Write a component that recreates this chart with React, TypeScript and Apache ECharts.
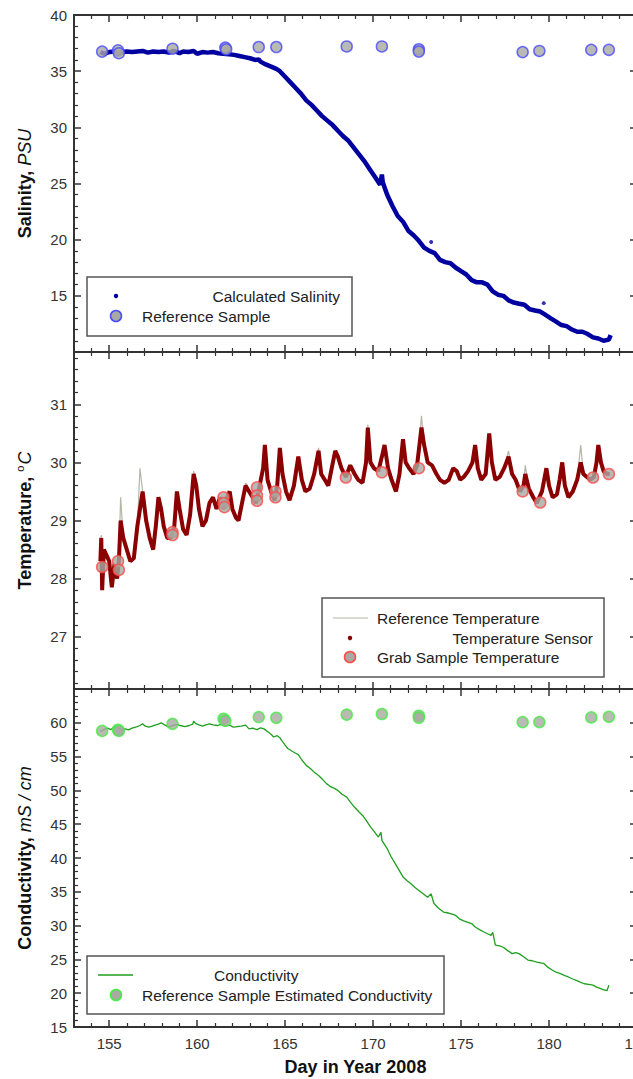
import React, { useEffect, useRef } from "react";
import * as echarts from "echarts";

const FONT = "'Liberation Sans', Arial, Helvetica, sans-serif";

// ---------- DATA ----------
const dayRange = [153, 185];
const salinityRange = [10, 40];
const temperatureRange = [26.1, 31.9];
const conductivityRange = [15, 65];

const calculatedSalinity: [number, number][] = [
  [154.5, 36.7], [154.7, 36.55], [155.0, 36.7], [155.3, 36.75], [155.5, 36.5], [155.7, 36.7],
  [156.0, 36.75], [156.3, 36.7], [156.6, 36.75], [156.9, 36.8], [157.2, 36.65], [157.5, 36.75],
  [157.8, 36.7], [158.1, 36.75], [158.4, 36.65], [158.7, 36.8], [159.0, 36.6], [159.2, 36.75],
  [159.5, 36.7], [159.8, 36.8], [160.0, 36.55], [160.3, 36.7], [160.6, 36.65], [160.9, 36.7],
  [161.2, 36.6], [161.5, 36.55], [161.8, 36.5], [162.1, 36.45], [162.4, 36.35], [162.7, 36.25],
  [163.0, 36.15], [163.3, 36.0], [163.5, 36.05], [163.6, 35.85], [163.9, 35.6], [164.2, 35.4],
  [164.5, 35.2], [164.7, 35.0], [165.0, 34.5], [165.3, 34.0], [165.6, 33.5], [165.9, 33.0],
  [166.2, 32.4], [166.5, 32.0], [166.8, 31.5], [167.1, 31.0], [167.4, 30.6], [167.7, 30.2],
  [168.0, 29.7], [168.3, 29.2], [168.6, 28.8], [168.9, 28.2], [169.2, 27.6], [169.5, 27.0],
  [169.8, 26.3], [170.1, 25.6], [170.4, 24.9], [170.5, 25.8], [170.55, 25.1], [170.8, 24.0],
  [171.1, 23.0], [171.4, 22.1], [171.7, 21.6], [172.0, 20.8], [172.3, 20.4], [172.6, 19.9],
  [172.9, 19.3], [173.2, 19.0], [173.5, 18.8], [173.8, 18.2], [174.1, 18.0], [174.4, 17.9],
  [174.7, 17.5], [175.0, 17.2], [175.3, 16.9], [175.6, 16.4], [175.9, 16.2], [176.2, 16.2],
  [176.5, 16.0], [176.8, 15.4], [177.1, 15.1], [177.4, 15.0], [177.7, 14.6], [178.0, 14.4],
  [178.3, 14.3], [178.6, 14.2], [178.9, 13.8], [179.2, 13.7], [179.5, 13.6], [179.8, 13.3],
  [180.1, 13.0], [180.4, 12.7], [180.7, 12.4], [181.0, 12.3], [181.3, 12.0], [181.6, 11.8],
  [181.9, 11.8], [182.2, 11.6], [182.5, 11.3], [182.8, 11.2], [183.1, 11.0], [183.4, 11.1],
  [183.5, 11.5],
];
const salinityOutliers: [number, number][] = [[173.3, 19.8], [179.7, 14.35]];

const salinityReference: [number, number][] = [
  [154.6, 36.74], [155.5, 36.85], [155.55, 36.6], [158.6, 37.0], [161.6, 37.1], [161.65, 36.95],
  [163.5, 37.15], [164.5, 37.15], [168.5, 37.2], [170.5, 37.2], [172.6, 36.95], [172.6, 36.75],
  [178.5, 36.7], [179.45, 36.8], [182.4, 36.9], [183.4, 36.9],
];

const temperatureSensor: [number, number][] = [
  [154.5, 28.3], [154.55, 28.7], [154.6, 27.8], [154.7, 28.5], [154.85, 28.4], [155.0, 28.3],
  [155.15, 27.85], [155.3, 28.25], [155.45, 28.0], [155.55, 28.3], [155.65, 29.0], [155.8, 28.7],
  [156.0, 28.5], [156.2, 28.3], [156.4, 28.35], [156.6, 28.9], [156.75, 29.2], [156.9, 29.5],
  [157.1, 29.0], [157.3, 28.7], [157.5, 28.5], [157.65, 28.9], [157.8, 29.4], [157.95, 29.2],
  [158.1, 28.9], [158.3, 28.7], [158.5, 28.7], [158.7, 28.9], [158.85, 29.5], [159.0, 29.2],
  [159.2, 28.85], [159.4, 28.75], [159.6, 29.1], [159.8, 29.8], [159.95, 29.6], [160.1, 29.2],
  [160.3, 28.9], [160.5, 29.0], [160.7, 29.3], [160.9, 29.4], [161.1, 29.2], [161.3, 29.4],
  [161.5, 29.2], [161.7, 29.4], [161.85, 29.5], [162.0, 29.2], [162.2, 29.05], [162.35, 29.0],
  [162.55, 29.3], [162.75, 29.6], [162.95, 29.5], [163.15, 29.4], [163.35, 29.3], [163.55, 29.6],
  [163.75, 29.9], [163.85, 30.3], [164.0, 29.7], [164.2, 29.5], [164.4, 29.35], [164.55, 29.6],
  [164.7, 30.25], [164.85, 29.8], [165.05, 29.5], [165.25, 29.35], [165.5, 29.6], [165.75, 30.1],
  [165.95, 29.7], [166.15, 29.5], [166.4, 29.55], [166.65, 29.8], [166.9, 30.2], [167.05, 29.8],
  [167.25, 29.7], [167.45, 29.6], [167.65, 29.9], [167.85, 30.2], [168.0, 30.1], [168.2, 29.9],
  [168.45, 29.75], [168.7, 29.95], [168.95, 29.8], [169.15, 29.7], [169.4, 29.65], [169.6, 30.0],
  [169.7, 30.6], [169.85, 30.0], [170.05, 29.9], [170.3, 29.85], [170.5, 30.1], [170.65, 30.3],
  [170.85, 29.9], [171.05, 29.7], [171.3, 29.5], [171.5, 29.8], [171.7, 30.4], [171.85, 30.0],
  [172.05, 29.9], [172.3, 29.8], [172.5, 29.95], [172.75, 30.6], [172.9, 30.3], [173.1, 30.0],
  [173.35, 29.95], [173.6, 29.8], [173.8, 29.7], [174.05, 29.65], [174.3, 29.7], [174.55, 29.9],
  [174.75, 29.85], [174.95, 29.7], [175.15, 29.75], [175.4, 29.85], [175.65, 30.0], [175.8, 30.3],
  [175.95, 29.9], [176.15, 29.7], [176.4, 29.8], [176.6, 30.5], [176.75, 30.0], [176.95, 29.7],
  [177.2, 29.75], [177.45, 29.9], [177.7, 30.1], [177.9, 29.8], [178.1, 29.7], [178.35, 29.5],
  [178.55, 29.6], [178.65, 29.8], [178.85, 29.55], [179.1, 29.4], [179.3, 29.3], [179.45, 29.4],
  [179.6, 29.5], [179.85, 29.9], [180.0, 29.6], [180.2, 29.4], [180.45, 29.45], [180.6, 29.7],
  [180.75, 30.0], [180.9, 29.6], [181.1, 29.4], [181.35, 29.5], [181.6, 29.7], [181.8, 30.0],
  [181.95, 29.8], [182.15, 29.75], [182.35, 29.7], [182.55, 29.75], [182.7, 30.0], [182.8, 30.3],
  [182.95, 30.0], [183.1, 29.85], [183.3, 29.8], [183.45, 29.8],
];

const referenceTemperature: [number, number][] = [
  [154.5, 28.3], [154.55, 28.75], [154.6, 27.9], [154.7, 28.5], [154.85, 28.4], [155.0, 28.3],
  [155.15, 27.9], [155.3, 28.25], [155.45, 28.0], [155.55, 28.3], [155.65, 29.4], [155.8, 28.7],
  [156.0, 28.5], [156.2, 28.3], [156.4, 28.35], [156.6, 28.9], [156.75, 29.9], [156.9, 29.5],
  [157.1, 29.0], [157.3, 28.7], [157.5, 28.5], [157.65, 28.9], [157.8, 29.4], [157.95, 29.2],
  [158.1, 28.9], [158.3, 28.7], [158.5, 28.7], [158.7, 28.9], [158.85, 29.5], [159.0, 29.2],
  [159.2, 28.85], [159.4, 28.75], [159.6, 29.1], [159.8, 29.85], [159.95, 29.6], [160.1, 29.2],
  [160.3, 28.9], [160.5, 29.0], [160.7, 29.3], [160.9, 29.4], [161.1, 29.2], [161.3, 29.4],
  [161.5, 29.2], [161.7, 29.4], [161.85, 29.5], [162.0, 29.2], [162.2, 29.05], [162.35, 29.0],
  [162.55, 29.3], [162.75, 29.65], [162.95, 29.5], [163.15, 29.4], [163.35, 29.3], [163.55, 29.6],
  [163.75, 29.9], [163.85, 30.1], [164.0, 29.7], [164.2, 29.5], [164.4, 29.35], [164.55, 29.6],
  [164.7, 30.25], [164.85, 29.8], [165.05, 29.5], [165.25, 29.35], [165.5, 29.6], [165.75, 30.1],
  [165.95, 29.7], [166.15, 29.5], [166.4, 29.55], [166.65, 29.8], [166.9, 30.25], [167.05, 29.8],
  [167.25, 29.7], [167.45, 29.6], [167.65, 29.9], [167.85, 30.2], [168.0, 30.1], [168.2, 29.9],
  [168.45, 29.75], [168.7, 29.95], [168.95, 29.8], [169.15, 29.7], [169.4, 29.65], [169.6, 30.0],
  [169.7, 30.65], [169.85, 30.0], [170.05, 29.9], [170.3, 29.85], [170.5, 30.1], [170.65, 30.3],
  [170.85, 29.9], [171.05, 29.7], [171.3, 29.5], [171.5, 29.8], [171.7, 30.4], [171.85, 30.0],
  [172.05, 29.9], [172.3, 29.8], [172.5, 29.95], [172.75, 30.8], [172.9, 30.3], [173.1, 30.0],
  [173.35, 29.95], [173.6, 29.8], [173.8, 29.7], [174.05, 29.65], [174.3, 29.7], [174.55, 29.9],
  [174.75, 29.85], [174.95, 29.7], [175.15, 29.75], [175.4, 29.85], [175.65, 30.0], [175.8, 30.3],
  [175.95, 29.9], [176.15, 29.7], [176.4, 29.8], [176.6, 30.5], [176.75, 30.0], [176.95, 29.7],
  [177.2, 29.75], [177.45, 29.9], [177.7, 30.2], [177.9, 29.8], [178.1, 29.7], [178.35, 29.5],
  [178.55, 29.6], [178.65, 29.95], [178.85, 29.55], [179.1, 29.4], [179.3, 29.3], [179.45, 29.4],
  [179.6, 29.5], [179.85, 29.9], [180.0, 29.6], [180.2, 29.4], [180.45, 29.45], [180.6, 29.7],
  [180.75, 30.0], [180.9, 29.6], [181.1, 29.4], [181.35, 29.5], [181.6, 29.7], [181.8, 30.3],
  [181.95, 29.8], [182.15, 29.75], [182.35, 29.7], [182.55, 29.75], [182.7, 30.0], [182.8, 30.3],
  [182.95, 30.0], [183.1, 29.85], [183.3, 29.8], [183.45, 29.8],
];

const grabSampleTemperature: [number, number][] = [
  [154.6, 28.2], [155.5, 28.3], [155.55, 28.15], [158.6, 28.8], [158.6, 28.75],
  [161.5, 29.4], [161.5, 29.3], [161.55, 29.23], [163.4, 29.57], [163.4, 29.43], [163.4, 29.34],
  [164.45, 29.5], [164.45, 29.4], [168.45, 29.74], [170.5, 29.83], [172.6, 29.9],
  [178.5, 29.5], [179.5, 29.31], [182.5, 29.74], [183.4, 29.8],
];

const conductivity: [number, number][] = [
  [154.5, 58.7], [154.7, 59.0], [154.9, 59.2], [155.1, 59.0], [155.3, 59.4], [155.5, 59.2],
  [155.7, 59.0], [155.9, 59.1], [156.1, 58.95], [156.3, 59.2], [156.55, 59.4], [156.75, 59.6],
  [156.9, 59.85], [157.05, 59.5], [157.25, 59.35], [157.45, 59.5], [157.6, 59.65], [157.8, 59.8],
  [157.95, 60.0], [158.15, 59.7], [158.4, 59.35], [158.6, 59.6], [158.85, 59.75], [159.05, 59.6],
  [159.3, 59.45], [159.55, 59.6], [159.75, 59.8], [159.8, 60.25], [159.9, 59.9], [160.1, 59.7],
  [160.3, 59.5], [160.5, 59.7], [160.7, 59.85], [160.9, 59.7], [161.15, 59.6], [161.35, 59.75],
  [161.6, 59.55], [161.85, 59.65], [162.05, 59.35], [162.3, 59.45], [162.5, 59.5], [162.75, 59.65],
  [162.95, 59.1], [163.15, 59.2], [163.4, 59.0], [163.6, 59.25], [163.8, 59.1], [164.0, 58.7],
  [164.2, 58.3], [164.35, 57.9], [164.55, 58.1], [164.7, 57.8], [164.8, 57.4], [165.0, 56.7],
  [165.15, 56.2], [165.4, 55.8], [165.6, 55.5], [165.75, 55.3], [165.95, 54.5], [166.2, 53.7],
  [166.45, 53.2], [166.65, 52.7], [166.9, 52.2], [167.1, 51.7], [167.35, 51.0], [167.55, 50.6],
  [167.8, 50.3], [168.0, 50.0], [168.25, 49.4], [168.5, 49.0], [168.7, 48.3], [168.95, 47.5],
  [169.2, 46.8], [169.4, 46.3], [169.6, 45.6], [169.85, 44.6], [170.1, 43.8], [170.3, 43.1],
  [170.45, 43.8], [170.5, 42.6], [170.8, 41.4], [171.0, 40.3], [171.25, 39.2], [171.5, 38.1],
  [171.7, 37.2], [171.95, 36.6], [172.15, 36.2], [172.4, 35.6], [172.6, 35.2], [172.85, 34.7],
  [173.1, 34.2], [173.3, 34.7], [173.45, 33.3], [173.7, 32.6], [174.0, 32.0], [174.2, 31.9],
  [174.45, 31.75], [174.7, 31.5], [174.9, 31.0], [175.15, 30.7], [175.35, 30.5], [175.6, 30.3],
  [175.8, 29.8], [176.05, 29.4], [176.3, 29.05], [176.5, 28.8], [176.7, 28.55], [176.8, 29.0],
  [176.95, 27.1], [177.2, 27.0], [177.4, 26.8], [177.65, 26.3], [177.9, 25.85], [178.1, 26.0],
  [178.3, 25.85], [178.55, 25.4], [178.8, 24.9], [179.05, 24.8], [179.3, 24.6], [179.5, 24.5],
  [179.7, 24.4], [179.9, 23.9], [180.2, 23.4], [180.4, 23.1], [180.65, 22.9], [180.9, 22.6],
  [181.1, 22.4], [181.35, 22.1], [181.55, 21.9], [181.8, 21.6], [182.0, 21.4], [182.25, 21.3],
  [182.5, 21.2], [182.7, 20.9], [182.9, 20.7], [183.1, 20.5], [183.3, 20.4], [183.4, 21.2],
];

const conductivityReference: [number, number][] = [
  [154.6, 58.8], [155.5, 58.97], [155.55, 58.8], [158.6, 59.85], [161.5, 60.6], [161.6, 60.3],
  [163.5, 60.85], [164.5, 60.75], [168.5, 61.2], [170.5, 61.3], [172.6, 61.05], [172.6, 60.75],
  [178.5, 60.1], [179.45, 60.1], [182.4, 60.8], [183.4, 60.9],
];

// ---------- LAYOUT ----------
const W = 633;
const H = 1079;
const GRID_LEFT = 74;
const GRID_WIDTH = 563;
const PANELS = [
  { top: 15, height: 337 },
  { top: 352, height: 337 },
  { top: 689, height: 338 },
];

const AXIS_COLOR = "#333";
const TICK_FONT = 15;

function xAxisDef(gridIndex: number, position: "top" | "bottom", labels: boolean) {
  return {
    type: "value",
    gridIndex,
    position,
    min: dayRange[0],
    max: dayRange[1],
    splitNumber: 6,
    splitLine: { show: false },
    axisLine: { show: true, onZero: false, lineStyle: { color: AXIS_COLOR, width: 2 } },
    axisTick: { show: true, inside: true, length: 7, lineStyle: { color: AXIS_COLOR, width: 1.5 } },
    minorTick: { show: true, splitNumber: 5, length: 4, lineStyle: { color: AXIS_COLOR, width: 1.2 } },
    axisLabel: {
      show: labels,
      showMinLabel: false,
      showMaxLabel: true,
      hideOverlap: false,
      margin: 9,
      color: "#333",
      fontSize: TICK_FONT,
      fontFamily: FONT,
    },
    name: labels ? "Day in Year 2008" : "",
    nameLocation: "middle",
    nameGap: 31,
    nameTextStyle: { fontSize: 18, fontWeight: "bold", color: "#111", fontFamily: FONT },
  };
}

function yAxisDef(
  gridIndex: number,
  position: "left" | "right",
  range: number[],
  splitNumber: number,
  labels: boolean,
  hideMin: boolean,
  hideMax: boolean,
  name: string
) {
  return {
    type: "value",
    gridIndex,
    position,
    min: range[0],
    max: range[1],
    splitNumber,
    splitLine: { show: false },
    axisLine: { show: true, onZero: false, lineStyle: { color: AXIS_COLOR, width: 2 } },
    axisTick: { show: true, inside: true, length: 7, lineStyle: { color: AXIS_COLOR, width: 1.5 } },
    minorTick: { show: true, splitNumber: 5, length: 4, lineStyle: { color: AXIS_COLOR, width: 1.2 } },
    axisLabel: {
      show: labels,
      showMinLabel: !hideMin,
      showMaxLabel: !hideMax,
      margin: 7,
      color: "#333",
      fontSize: TICK_FONT,
      fontFamily: FONT,
    },
    name: labels ? name : "",
    nameLocation: "middle",
    nameGap: 38,
    nameRotate: 90,
    nameTextStyle: {
      color: "#111",
      fontFamily: FONT,
      fontSize: 18,
      rich: {
        b: { fontWeight: "bold", fontSize: 18, fontFamily: FONT, color: "#111", lineHeight: 22 },
        i: { fontStyle: "italic", fontSize: 18, fontFamily: FONT, color: "#111", lineHeight: 22 },
        sup: { fontSize: 11, fontFamily: FONT, color: "#111", verticalAlign: "top", lineHeight: 22, padding: [0, 1, 0, 0] },
      },
    },
  };
}

const SAMPLE_FILL = "#a9a9a2";

function legendGraphics() {
  const t = (x: number, y: number, text: string, align: string) => ({
    type: "text",
    x,
    y,
    style: { text, fill: "#222", font: `15.5px ${FONT}`, textAlign: align, textVerticalAlign: "middle" },
  });
  const box = (x: number, y: number, w: number, h: number) => ({
    type: "rect",
    shape: { x, y, width: w, height: h },
    style: { fill: "#fff", stroke: "#555", lineWidth: 1.5 },
  });
  const circ = (x: number, y: number, r: number, fill: string, stroke: string, lw: number) => ({
    type: "circle",
    shape: { cx: x, cy: y, r },
    style: { fill, stroke, lineWidth: lw },
  });
  const seg = (x1: number, x2: number, y: number, color: string, w: number) => ({
    type: "line",
    shape: { x1, y1: y, x2, y2: y },
    style: { stroke: color, lineWidth: w },
  });
  return [
    box(87, 277, 265, 59),
    circ(116, 296, 2.2, "#0000a0", "#0000a0", 0),
    t(340, 296, "Calculated Salinity", "right"),
    circ(116, 316, 5.5, SAMPLE_FILL, "#4a4aff", 1.5),
    t(142, 316, "Reference Sample", "left"),

    box(322, 598, 282, 79),
    seg(333, 368, 618, "#b5b5a8", 1.2),
    t(377, 618, "Reference Temperature", "left"),
    circ(350, 638, 2.2, "#8b0000", "#8b0000", 0),
    t(593, 638, "Temperature Sensor", "right"),
    circ(350, 657, 5.5, SAMPLE_FILL, "#ff4a4a", 1.5),
    t(377, 657, "Grab Sample Temperature", "left"),

    box(87, 956, 357, 58),
    seg(98, 133, 975, "#1f9f1f", 1.5),
    t(214, 975, "Conductivity", "left"),
    circ(116, 995, 5.5, SAMPLE_FILL, "#44ee44", 1.5),
    t(142, 995, "Reference Sample Estimated Conductivity", "left"),
  ];
}

export default function App() {
  const ref = useRef<HTMLDivElement>(null);

  useEffect(() => {
    if (!ref.current) return;
    const chart = echarts.init(ref.current, undefined, { renderer: "svg" });

    const option = {
      animation: false,
      backgroundColor: "#fff",
      textStyle: { fontFamily: FONT },
      grid: PANELS.map((p) => ({
        left: GRID_LEFT,
        width: GRID_WIDTH,
        top: p.top,
        height: p.height,
        containLabel: false,
        outerBoundsMode: "none",
      })),
      xAxis: [
        xAxisDef(0, "bottom", false),
        xAxisDef(0, "top", false),
        xAxisDef(1, "bottom", false),
        xAxisDef(1, "top", false),
        xAxisDef(2, "bottom", true),
        xAxisDef(2, "top", false),
      ],
      yAxis: [
        yAxisDef(0, "left", salinityRange, 6, true, true, false, "{b|Salinity, }{i|PSU}"),
        yAxisDef(0, "right", salinityRange, 6, false, false, false, ""),
        yAxisDef(1, "left", temperatureRange, 5, true, true, true, "{b|Temperature, }{sup|o}{i|C}"),
        yAxisDef(1, "right", temperatureRange, 5, false, false, false, ""),
        yAxisDef(2, "left", conductivityRange, 10, true, false, true, "{b|Conductivity, }{i|mS / cm}"),
        yAxisDef(2, "right", conductivityRange, 10, false, false, false, ""),
      ],
      series: [
        {
          name: "Calculated Salinity",
          type: "line",
          xAxisIndex: 0,
          yAxisIndex: 0,
          data: calculatedSalinity,
          showSymbol: false,
          lineStyle: { color: "#0000a0", width: 4.5 },
          z: 2,
        },
        {
          name: "Calculated Salinity outliers",
          type: "scatter",
          xAxisIndex: 0,
          yAxisIndex: 0,
          data: salinityOutliers,
          symbolSize: 4,
          itemStyle: { color: "#0000a0" },
          z: 2,
        },
        {
          name: "Reference Sample",
          type: "scatter",
          xAxisIndex: 0,
          yAxisIndex: 0,
          data: salinityReference,
          symbolSize: 11,
          itemStyle: { color: SAMPLE_FILL, borderColor: "#4a4aff", borderWidth: 1.5 },
          z: 3,
        },
        {
          name: "Reference Temperature",
          type: "line",
          xAxisIndex: 2,
          yAxisIndex: 2,
          data: referenceTemperature,
          showSymbol: false,
          lineStyle: { color: "#b5b5a8", width: 1.2 },
          z: 1,
        },
        {
          name: "Temperature Sensor",
          type: "line",
          xAxisIndex: 2,
          yAxisIndex: 2,
          data: temperatureSensor,
          showSymbol: false,
          lineStyle: { color: "#8b0000", width: 4 },
          z: 2,
        },
        {
          name: "Grab Sample Temperature",
          type: "scatter",
          xAxisIndex: 2,
          yAxisIndex: 2,
          data: grabSampleTemperature,
          symbolSize: 11,
          itemStyle: { color: SAMPLE_FILL, borderColor: "#ff4a4a", borderWidth: 1.5 },
          z: 3,
        },
        {
          name: "Conductivity",
          type: "line",
          xAxisIndex: 4,
          yAxisIndex: 4,
          data: conductivity,
          showSymbol: false,
          lineStyle: { color: "#1f9f1f", width: 1.3 },
          z: 2,
        },
        {
          name: "Reference Sample Estimated Conductivity",
          type: "scatter",
          xAxisIndex: 4,
          yAxisIndex: 4,
          data: conductivityReference,
          symbolSize: 11,
          itemStyle: { color: SAMPLE_FILL, borderColor: "#44ee44", borderWidth: 1.5 },
          z: 3,
        },
      ],
      graphic: legendGraphics(),
    };

    chart.setOption(option as any);
    return () => chart.dispose();
  }, []);

  return (
    <div
      ref={ref}
      style={{ position: "fixed", left: 0, top: 0, width: W, height: H, background: "#fff" }}
    />
  );
}
